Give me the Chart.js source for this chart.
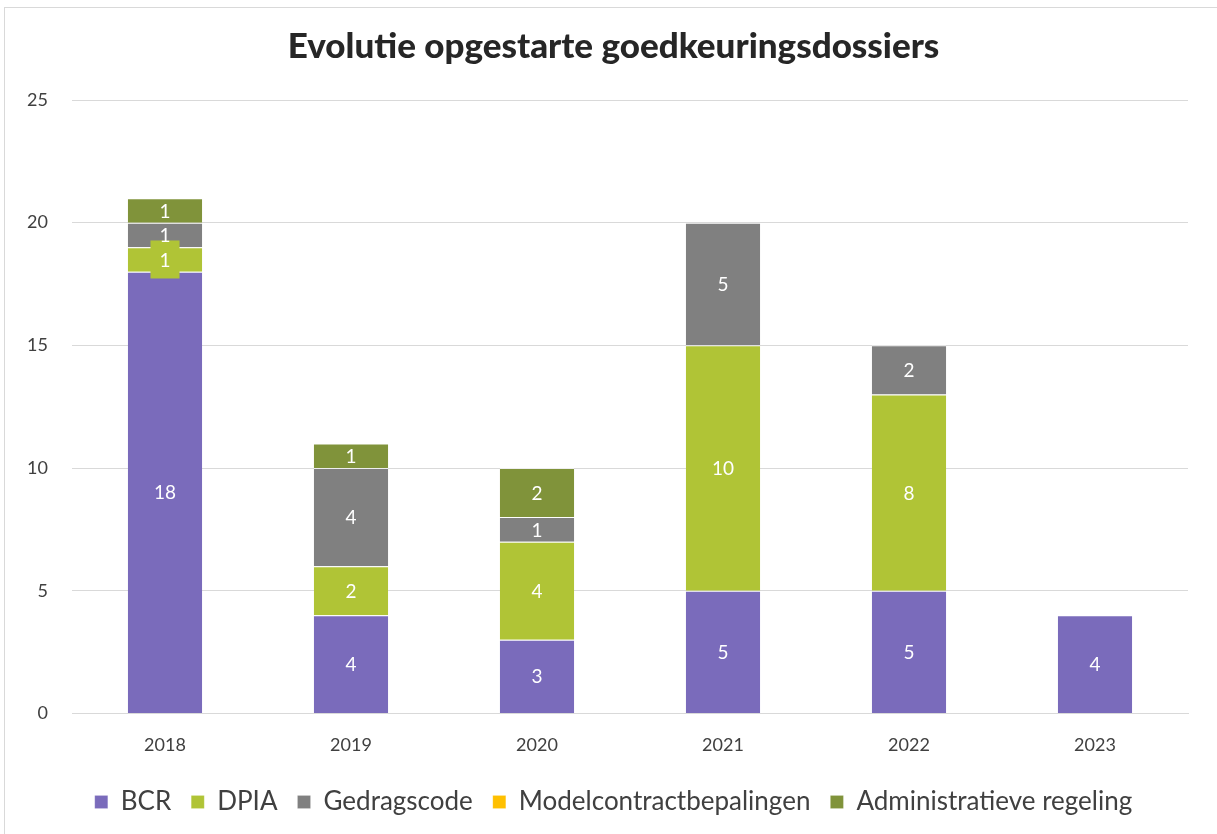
<!DOCTYPE html>
<html>
<head>
<meta charset="utf-8">
<script src="https://cdn.jsdelivr.net/npm/chart.js@4.4.1/dist/chart.umd.min.js"></script>
<style>
  body { margin: 0; background: #fff; }
  #frame { position: absolute; left: 4px; top: 7px; width: 1230px; height: 840px; border: 1px solid #d9d9d9; }
  #wrap { position: absolute; left: 0; top: 0; width: 1217px; height: 834px; }
</style>
</head>
<body>
<div id="frame"></div>
<div id="wrap"><canvas id="chart"></canvas></div>
<script>
let years = ["2018", "2019", "2020", "2021", "2022", "2023"];
let bcr = [18, 4, 3, 5, 5, 4];
let dpia = [1, 2, 4, 10, 8, 0];
let gedragscode = [1, 4, 1, 5, 2, 0];
let modelcontract = [0, 0, 0, 0, 0, 0];
let administratief = [1, 1, 2, 0, 0, 0];
let yTicks = [0, 5, 10, 15, 20, 25];

// labels inside the stacked segments (no datalabels plugin available)
let segmentLabels = {
  id: "segmentLabels",
  afterDatasetsDraw(chart) {
    let ctx = chart.ctx;
    ctx.save();
    ctx.font = "19px Lato";
    ctx.textAlign = "center";
    ctx.textBaseline = "middle";
    chart.data.datasets.forEach((ds, i) => {
      let meta = chart.getDatasetMeta(i);
      meta.data.forEach((bar, j) => {
        let v = ds.data[j];
        if (!v) return;
        let cy = (bar.y + bar.base) / 2;
        if (ds.labelBox && ds.labelBox[j]) {
          ctx.fillStyle = ds.backgroundColor;
          ctx.fillRect(bar.x - 14.5, cy - 19, 29, 38);
        }
        ctx.fillStyle = "#ffffff";
        ctx.fillText(String(v), bar.x, cy + 1);
      });
    });
    ctx.restore();
  },
};

renderChart();

function renderChart() {
  let el = document.querySelector("#chart");
  new Chart(el, {
    type: "bar",
    plugins: [segmentLabels],
    data: {
      labels: years,
      datasets: [
        { label: "BCR", data: bcr, backgroundColor: "#7a6bbb" },
        { label: "DPIA", data: dpia, backgroundColor: "#b0c436", labelBox: [true, false, false, false, false, false] },
        { label: "Gedragscode", data: gedragscode, backgroundColor: "#808080" },
        { label: "Modelcontractbepalingen", data: modelcontract, backgroundColor: "#ffc000" },
        { label: "Administratieve regeling", data: administratief, backgroundColor: "#80933a" },
      ].map((d) => Object.assign(d, {
        borderColor: "rgba(255,255,255,0.55)",
        borderWidth: { top: 1, left: 0, right: 0, bottom: 0 },
        borderSkipped: false,
        categoryPercentage: 1,
        barPercentage: 0.4,
      })),
    },
    options: {
      responsive: true,
      maintainAspectRatio: false,
      animation: false,
      layout: { padding: { left: 10, right: 0, top: 0, bottom: 9 } },
      plugins: {
        title: {
          display: true,
          text: "Evolutie opgestarte goedkeuringsdossiers",
          color: "#262626",
          font: { family: "Lato", size: 35, weight: 900 },
          padding: { top: 26, bottom: 32 },
        },
        legend: {
          position: "bottom",
          labels: {
            color: "#404040",
            font: { family: "Lato", size: 26 },
            boxWidth: 13,
            boxHeight: 13,
            padding: 20,
          },
        },
        tooltip: { enabled: false },
      },
      scales: {
        x: {
          stacked: true,
          grid: { display: false },
          border: { color: "#d9d9d9" },
          ticks: { color: "#404040", font: { family: "Lato", size: 18 }, padding: 13 },
        },
        y: {
          stacked: true,
          min: 0,
          max: 25,
          afterFit: (axis) => { axis.width = 62; },
          afterBuildTicks: (axis) => { axis.ticks = yTicks.map((v) => ({ value: v })); },
          grid: { color: "#d9d9d9", drawTicks: false },
          border: { display: false },
          ticks: { color: "#404040", font: { family: "Lato", size: 18 }, padding: 24 },
        },
        // empty right-hand axis only to reserve the right margin
        yRight: {
          position: "right",
          afterFit: (axis) => { axis.width = 29; },
          grid: { display: false },
          border: { display: false },
          ticks: { display: false },
        },
      },
    },
  });
}
</script>
</body>
</html>
